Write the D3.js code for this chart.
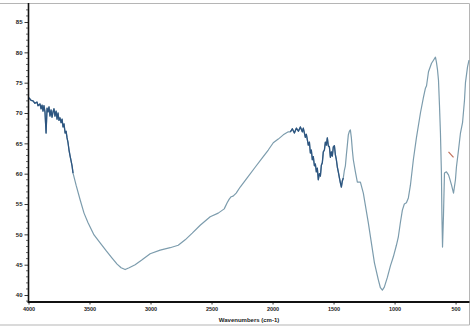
<!DOCTYPE html>
<html>
<head>
<meta charset="utf-8">
<script src="https://cdn.jsdelivr.net/npm/d3@7"></script>
<style>
  html, body { margin: 0; padding: 0; background: #fff; }
  svg { display: block; font-family: 'Liberation Sans', Arial, sans-serif; }
</style>
</head>
<body>
<svg id="chart" width="472" height="328"></svg>
<script>
// FT-IR spectrum
let wavenumbers = [
  4000, 3996, 3979, 3963, 3947, 3930, 3922, 3906, 3897, 3889, 3881, 3873, 3865, 3856, 3848, 3840,
  3832, 3824, 3815, 3807, 3799, 3791, 3783, 3774, 3766, 3758, 3750, 3742, 3733, 3725, 3717, 3709,
  3700, 3692, 3684, 3676, 3668, 3659, 3651, 3643, 3635, 3610, 3577, 3545, 3512, 3463, 3413, 3364,
  3315, 3274, 3241, 3208, 3175, 3126, 3069, 3003, 2921, 2839, 2773, 2716, 2658, 2593, 2511, 2445,
  2396, 2372, 2355, 2339, 2323, 2298, 2265, 2208, 2141, 2084, 2035, 1994, 1953, 1912, 1871,
  1854, 1838, 1821, 1805, 1788, 1772, 1756, 1748, 1731, 1723, 1707, 1698, 1690, 1682, 1674, 1666,
  1657, 1649, 1641, 1633, 1625, 1616, 1608, 1600, 1592, 1584, 1575, 1567, 1559, 1551, 1543, 1534,
  1526, 1518, 1510, 1502, 1493, 1485, 1477, 1469, 1461, 1452, 1444, 1436, 1428, 1420, 1411, 1403,
  1395, 1387, 1379, 1370, 1362, 1354, 1346, 1338, 1321, 1305, 1280, 1256, 1215, 1165, 1133, 1116,
  1100, 1084, 1059, 1034, 1010, 985, 969, 952, 936, 920, 903, 887, 870, 846, 821, 788,
  763, 747, 738, 722, 697, 681, 665, 657, 648, 640, 632, 624, 616, 612, 607, 599,
  591, 575, 558, 550, 533, 517, 501, 493, 476, 460, 443, 427, 419, 402, 390
];
let transmittance = [
  72.6, 72.5, 72.1, 72.0, 71.6, 71.8, 71.2, 71.5, 70.7, 71.3, 70.3, 71.2, 70.2, 66.7, 70.8, 70.2,
  71.0, 69.5, 70.5, 69.3, 70.2, 70.7, 69.5, 70.3, 69.0, 70.0, 68.8, 69.2, 68.4, 69.0, 67.7, 68.2,
  66.7, 67.0, 65.9, 65.1, 63.9, 62.9, 62.1, 61.3, 60.1, 58.1, 55.7, 53.5, 51.9, 49.9, 48.6, 47.3,
  46.1, 45.1, 44.5, 44.2, 44.5, 45.0, 45.8, 46.8, 47.4, 47.8, 48.2, 49.1, 50.2, 51.5, 52.9, 53.5,
  54.2, 55.2, 55.8, 56.2, 56.3, 56.8, 57.8, 59.3, 61.1, 62.6, 63.9, 65.1, 65.7, 66.4, 66.9,
  66.9, 67.4, 66.7, 67.5, 67.0, 67.7, 66.9, 67.5, 66.0, 66.5, 64.7, 65.2, 63.4, 63.9, 62.3, 62.8,
  61.3, 61.6, 60.3, 60.9, 59.0, 60.0, 59.6, 61.4, 61.8, 63.6, 63.9, 65.2, 64.7, 65.9, 64.6, 64.4,
  62.7, 63.6, 62.9, 64.4, 64.6, 63.1, 62.3, 61.1, 60.3, 59.3, 58.5, 57.8, 58.8, 59.3, 60.6, 61.3,
  63.1, 64.7, 66.4, 67.0, 67.2, 65.9, 63.9, 62.3, 60.3, 58.6, 58.6, 56.8, 51.9, 45.3, 42.5, 41.2,
  40.8, 41.3, 42.9, 44.8, 46.3, 48.2, 49.6, 52.0, 54.0, 55.0, 55.2, 56.0, 58.1, 62.3, 65.9, 70.0,
  72.6, 74.1, 74.5, 76.8, 78.2, 78.7, 79.2, 78.4, 77.1, 75.4, 71.3, 66.7, 60.1, 53.2, 47.9, 53.2,
  60.1, 60.3, 59.8, 59.3, 58.1, 56.8, 59.0, 61.1, 63.9, 66.7, 68.4, 72.1, 75.0, 77.6, 78.7
];
// noisy stretches of the trace (drawn darker)
let noisyBands = [[4000, 3630], [1860, 1420]];
// small stray reddish trace near 540 cm-1
let strayWavenumbers = [558, 517];
let strayTransmittance = [63.6, 62.7];

let xTicks = [4000, 3500, 3000, 2500, 2000, 1500, 1000, 500];
let yTicks = [40, 45, 50, 55, 60, 65, 70, 75, 80, 85];
let xLabel = 'Wavenumbers (cm-1)';

let data = wavenumbers.map((w, i) => ({ w: w, t: transmittance[i] }));

let svg = d3.select('#chart');
let plotLeft = 28.5, plotRight = 469.5, plotTop = 3.5, plotBottom = 302;

let x = d3.scaleLinear().domain([4000, 390]).range([plotLeft, plotRight - 0.5]);
let y = d3.scaleLinear().domain([38.85, 88.05]).range([plotBottom, plotTop]);

// outer frame (light grey)
svg.append('path')
  .attr('d', 'M0,' + plotTop + 'H' + plotRight + 'V325H0')
  .attr('fill', 'none')
  .attr('stroke', '#b5b5b5')
  .attr('stroke-width', 1);

let line = d3.line()
  .x(d => x(d.w))
  .y(d => y(d.t));

// main trace
svg.append('path')
  .datum(data)
  .attr('fill', 'none')
  .attr('stroke', '#7c9cad')
  .attr('stroke-width', 1.2)
  .attr('stroke-linejoin', 'round')
  .attr('d', line);

// darker noisy segments
noisyBands.forEach(b => {
  let seg = data.filter(d => d.w <= b[0] && d.w >= b[1]);
  svg.append('path')
    .datum(seg)
    .attr('fill', 'none')
    .attr('stroke', '#2d5580')
    .attr('stroke-width', 1.3)
    .attr('stroke-linejoin', 'round')
    .attr('d', line);
});

svg.append('path')
  .datum(strayWavenumbers.map((w, i) => ({ w: w, t: strayTransmittance[i] })))
  .attr('fill', 'none')
  .attr('stroke', '#c0705a')
  .attr('stroke-width', 1.2)
  .attr('d', line);

// y axis: major + minor ticks
let yAxis = d3.axisLeft(y)
  .tickValues(yTicks)
  .tickSize(4)
  .tickPadding(2)
  .tickFormat(d3.format('d'));
let gy = svg.append('g')
  .attr('transform', 'translate(' + plotLeft + ',0)')
  .call(yAxis);
gy.select('.domain').remove();
gy.selectAll('text')
  .attr('font-size', 6)
  .attr('font-weight', 'bold')
  .attr('fill', '#222');
gy.selectAll('line').attr('stroke', '#333');

let yMinor = d3.range(39, 88, 1).filter(v => v % 5 !== 0);
svg.append('g')
  .selectAll('line')
  .data(yMinor)
  .enter()
  .append('line')
  .attr('x1', plotLeft - 2.5)
  .attr('x2', plotLeft)
  .attr('y1', d => y(d))
  .attr('y2', d => y(d))
  .attr('stroke', '#444')
  .attr('stroke-width', 0.8);

// x axis
let xAxis = d3.axisBottom(x)
  .tickValues(xTicks)
  .tickSize(2.5)
  .tickPadding(2.5)
  .tickFormat(d3.format('d'));
let gx = svg.append('g')
  .attr('transform', 'translate(0,' + plotBottom + ')')
  .call(xAxis);
gx.select('.domain').remove();
gx.selectAll('text')
  .attr('font-size', 5.5)
  .attr('font-weight', 'bold')
  .attr('fill', '#222');
gx.selectAll('line').attr('stroke', '#333');

// axis lines
svg.append('line')
  .attr('x1', plotLeft).attr('x2', plotLeft)
  .attr('y1', plotTop - 0.5).attr('y2', plotBottom + 1)
  .attr('stroke', '#111')
  .attr('stroke-width', 1.6);
svg.append('line')
  .attr('x1', plotLeft - 0.8).attr('x2', plotRight)
  .attr('y1', plotBottom).attr('y2', plotBottom)
  .attr('stroke', '#111')
  .attr('stroke-width', 2);

svg.append('text')
  .attr('x', 249)
  .attr('y', 322)
  .attr('text-anchor', 'middle')
  .attr('font-size', 6)
  .attr('font-weight', 'bold')
  .attr('fill', '#222')
  .text(xLabel);
</script>
</body>
</html>
